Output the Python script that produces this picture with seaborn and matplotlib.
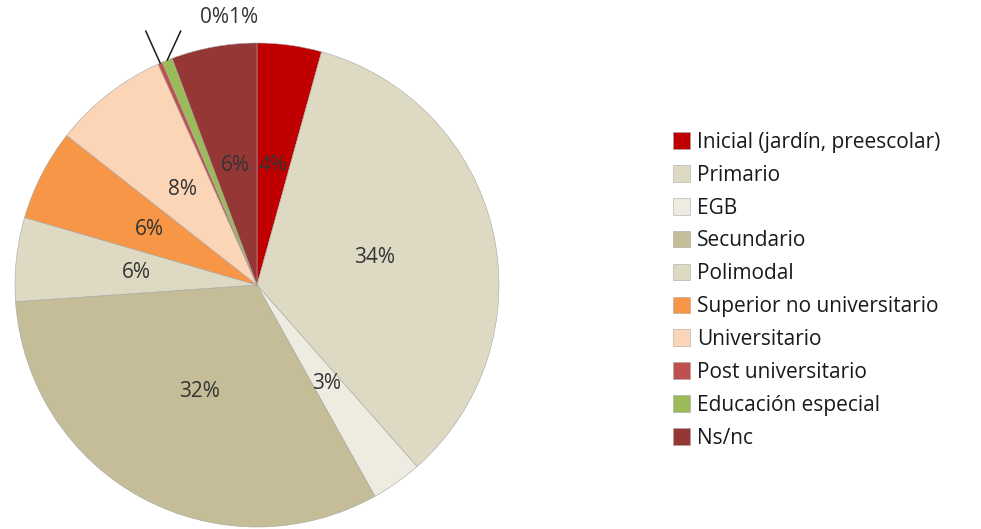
import matplotlib
matplotlib.use("Agg")
import matplotlib.pyplot as plt
import seaborn as sns
import numpy as np

# Nivel educativo - distribución (%)
categories = [
    "Inicial (jardín, preescolar)",
    "Primario",
    "EGB",
    "Secundario",
    "Polimodal",
    "Superior no universitario",
    "Universitario",
    "Post universitario",
    "Educación especial",
    "Ns/nc",
]
shares = [4.3, 34.2, 3.4, 32.0, 5.6, 6.1, 7.7, 0.3, 0.7, 5.7]
colors = ["#C00000", "#DDD9C3", "#EEECE1", "#C4BD97", "#DDD9C3",
          "#F79646", "#FBD5B5", "#C0504D", "#9BBB59", "#953735"]

sns.set_theme(style="white")
plt.rcParams["font.family"] = ["Open Sans", "DejaVu Sans"]
palette = sns.color_palette(colors)

fig = plt.figure(figsize=(9.81, 5.29), dpi=100)
ax = fig.add_axes([15 / 981, 2 / 529, 484 / 981, 484 / 529])

wedges, _ = ax.pie(
    shares,
    colors=palette,
    startangle=90,
    counterclock=False,
    radius=1.0,
    wedgeprops=dict(edgecolor="#a6a6a6", linewidth=0.4),
)
ax.set_xlim(-1, 1)
ax.set_ylim(-1, 1)
ax.set_aspect("equal")
ax.axis("off")

# data labels: inside at half radius, tiny slices outside with leader lines
total = sum(shares)
leader_end = {7: (-0.46, 1.05), 8: (-0.315, 1.05)}
for i, (w, v) in enumerate(zip(wedges, shares)):
    label = f"{v / total * 100:.0f}%"
    ang = np.deg2rad((w.theta1 + w.theta2) / 2)
    x, y = np.cos(ang), np.sin(ang)
    if i in leader_end:
        tx, ty = leader_end[i]
        ax.plot([x, tx], [y, ty], color="#1a1a1a", lw=1.1, clip_on=False)
        continue
    ax.text(0.5 * x, 0.5 * y, label, ha="center", va="center",
            fontsize=15, color="#333333")

small = "".join(f"{shares[i] / total * 100:.0f}%" for i in (7, 8))
ax.text(-0.116, 1.107, small, ha="center", va="center", fontsize=15,
        color="#333333", clip_on=False)

fig.legend(
    wedges, categories,
    loc="upper left",
    bbox_to_anchor=(654 / 981, 1 - 113 / 529),
    frameon=False,
    fontsize=15,
    handlelength=0.85,
    handleheight=0.85,
    handletextpad=0.3,
    labelspacing=0.57,
    labelcolor="#1a1a1a",
)

fig.savefig("out.png", dpi=100)
